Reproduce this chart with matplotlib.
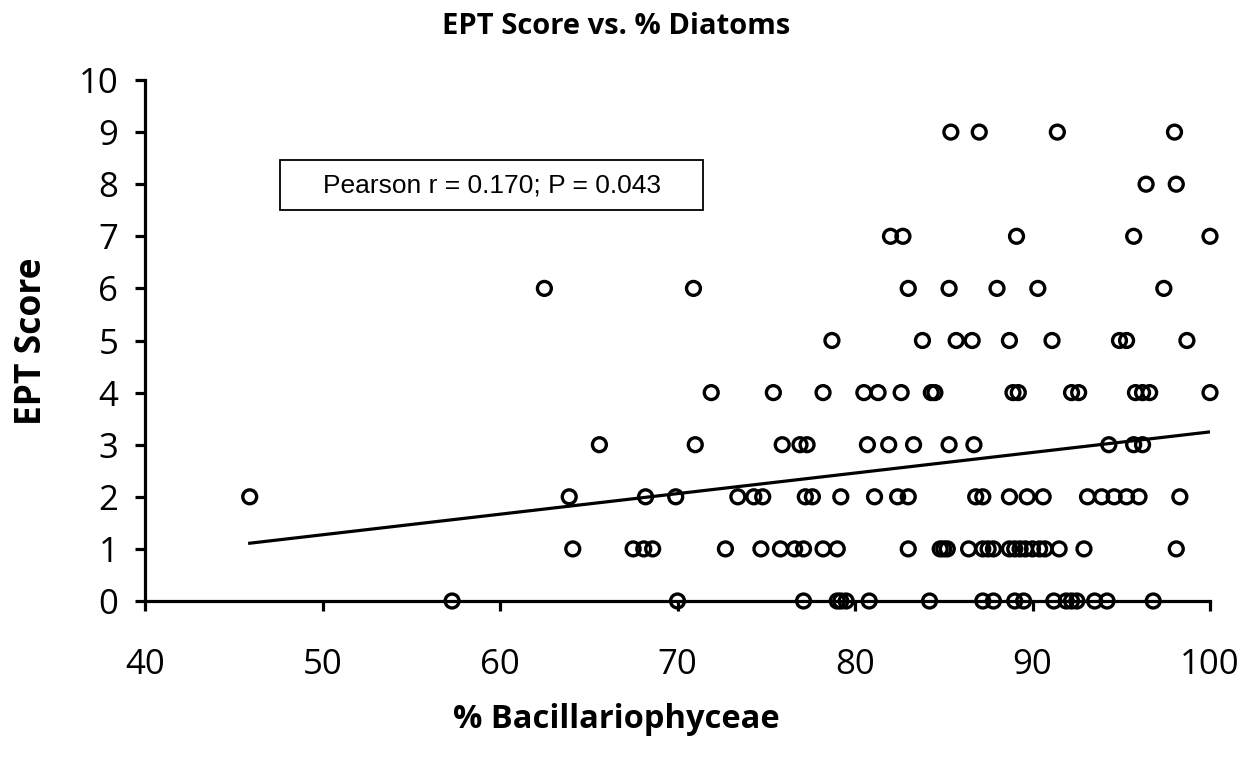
import numpy as np
import matplotlib
matplotlib.use("Agg")
import matplotlib.pyplot as plt
from matplotlib.patches import Rectangle

# % Bacillariophyceae for each site, grouped by EPT score (0-9)
pct_bac = [
    # EPT 0
    57.3, 70.0, 77.1, 79.0, 79.2, 79.5, 80.8, 84.2, 87.2, 87.8, 89.0, 89.5,
    91.2, 91.9, 92.2, 92.5, 93.5, 94.2, 96.8,
    # EPT 1
    64.1, 67.5, 68.1, 68.6, 72.7, 74.7, 75.8, 76.6, 77.1, 78.2, 79.0, 83.0,
    84.8, 85.0, 85.2, 86.4, 87.2, 87.5, 87.8, 88.7, 89.0, 89.3, 89.6, 90.0,
    90.4, 90.7, 91.5, 92.9, 98.1,
    # EPT 2
    45.9, 63.9, 68.2, 69.9, 73.4, 74.3, 74.8, 77.2, 77.6, 79.2, 81.1, 82.4,
    83.0, 86.8, 87.2, 88.7, 89.7, 90.6, 93.1, 93.9, 94.6, 95.3, 96.0, 98.3,
    # EPT 3
    65.6, 71.0, 75.9, 76.9, 77.3, 80.7, 81.9, 83.3, 85.3, 86.7, 94.3, 95.7,
    96.2,
    # EPT 4
    71.9, 75.4, 78.2, 80.5, 81.3, 82.6, 84.3, 84.5, 88.9, 89.2, 92.2, 92.6,
    95.8, 96.2, 96.6, 100.0,
    # EPT 5
    78.7, 83.8, 85.7, 86.6, 88.7, 91.1, 94.9, 95.3, 98.7,
    # EPT 6
    62.5, 70.9, 83.0, 85.3, 88.0, 90.3, 97.4,
    # EPT 7
    82.0, 82.7, 89.1, 95.7, 100.0,
    # EPT 8
    96.4, 98.1,
    # EPT 9
    85.4, 87.0, 91.4, 98.0,
]
ept_counts = [19, 29, 24, 13, 16, 9, 7, 5, 2, 4]
ept_levels = list(range(10))
ept_score = np.repeat(ept_levels, ept_counts)

# linear trend (EPT = intercept + slope * %Bac) and correlation stats
trend_slope = 0.0395
trend_intercept = -0.704
pearson_r = 0.170
p_value = 0.043

x_ticks = [40, 50, 60, 70, 80, 90, 100]
y_ticks = list(range(0, 11))

x = np.asarray(pct_bac, dtype=float)
y = ept_score.astype(float)

W, H = 1251, 763
fig = plt.figure(figsize=(W / 100, H / 100), dpi=100)
ax = fig.add_axes([145 / W, 1 - 601 / H, (1210 - 145) / W, (601 - 80) / H])

ax.scatter(x, y, s=100, facecolors="none", edgecolors="black",
           linewidths=2.4, zorder=3, clip_on=False)

xf = np.array([x.min(), x.max()])
ax.plot(xf, trend_intercept + trend_slope * xf, color="black", lw=2.3,
        zorder=2)

ax.set_xlim(40, 100)
ax.set_ylim(0, 10)
ax.set_xticks(x_ticks)
ax.set_yticks(y_ticks)

for side in ("top", "right"):
    ax.spines[side].set_visible(False)
for side in ("left", "bottom"):
    ax.spines[side].set_linewidth(2.3)
    ax.spines[side].set_color("black")

tick_font = {"family": "Open Sans", "size": 25}
ax.tick_params(axis="both", direction="out", length=7.2, width=2.3,
               colors="black")
ax.tick_params(axis="x", pad=27)
ax.tick_params(axis="y", pad=12)
ax.set_xticklabels([str(t) for t in x_ticks], **tick_font)
ax.set_yticklabels([str(t) for t in y_ticks], **tick_font)

fig.text(616 / W, 1 - 720 / H, "% Bacillariophyceae", family="Open Sans",
         fontweight="bold", fontsize=23.5, ha="center", va="center")
fig.text(32 / W, 1 - 341 / H, "EPT Score", family="Open Sans",
         fontweight="bold", fontsize=25.5, ha="center", va="center",
         rotation=90)
fig.text(616 / W, 1 - 26 / H, "EPT Score vs. % Diatoms", family="Open Sans",
         fontweight="bold", fontsize=21, ha="center", va="center")

# annotation box with the correlation result
box_x0, box_x1 = 47.6, 71.45
box_y0, box_y1 = 7.5, 8.46
ax.add_patch(Rectangle((box_x0, box_y0), box_x1 - box_x0, box_y1 - box_y0,
                       facecolor="white", edgecolor="black", linewidth=1.3,
                       zorder=4))
ax.text((box_x0 + box_x1) / 2, (box_y0 + box_y1) / 2,
        f"Pearson r = {pearson_r:.3f}; P = {p_value:.3f}",
        family="Liberation Sans", fontsize=19, ha="center", va="center",
        zorder=5)

fig.savefig("out.png", dpi=100)
